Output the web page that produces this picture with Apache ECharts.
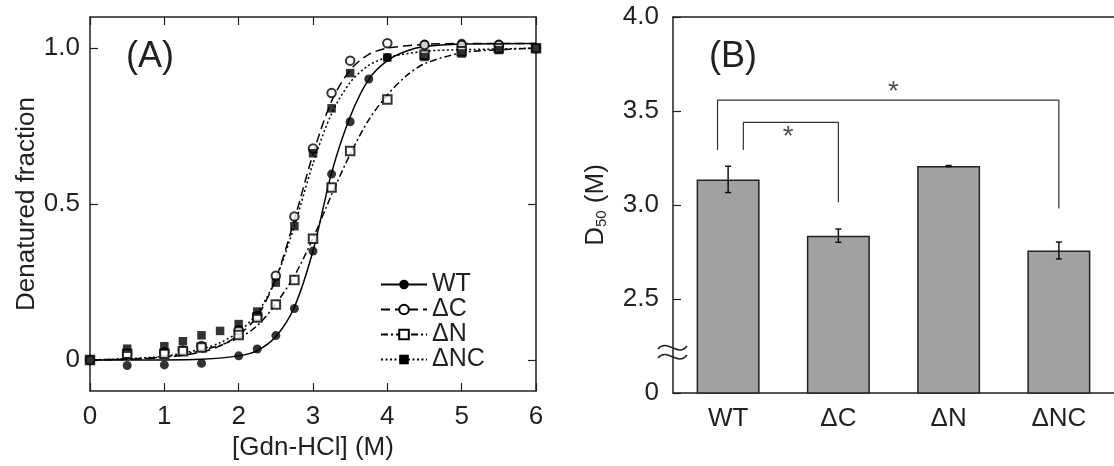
<!DOCTYPE html>
<html>
<head>
<meta charset="utf-8">
<script src="https://cdn.jsdelivr.net/npm/echarts@6/dist/echarts.min.js"></script>
<style>
  html, body { margin: 0; padding: 0; background: #fff; }
  #chart { width: 1114px; height: 466px; }
</style>
</head>
<body>
<div id="chart"></div>
<script>
// panel A: denaturation data points
const wtX = [0, 0.5, 1, 1.5, 2, 2.25, 2.5, 2.75, 3, 3.25, 3.5, 3.75, 4, 4.5, 5, 5.5, 6];
const wtY = [0, -0.018, -0.016, -0.011, 0.013, 0.035, 0.078, 0.165, 0.349, 0.596, 0.764, 0.901, 0.97, 1.013, 1.016, 1.013, 1.0];
const dcX = [0, 0.5, 1, 1.25, 1.5, 2, 2.25, 2.5, 2.75, 3, 3.25, 3.5, 4, 4.5, 5, 5.5, 6];
const dcY = [0, 0.02, 0.025, 0.03, 0.045, 0.095, 0.14, 0.27, 0.46, 0.678, 0.856, 0.96, 1.016, 1.01, 1.01, 1.01, 1.0];
const dnX = [0, 0.5, 1, 1.25, 1.5, 2, 2.25, 2.5, 2.75, 3, 3.25, 3.5, 4, 4.5, 5, 5.5, 6];
const dnY = [0, 0.02, 0.02, 0.028, 0.04, 0.08, 0.136, 0.178, 0.256, 0.389, 0.553, 0.67, 0.835, 0.979, 0.99, 1.0, 1.0];
const dncX = [0, 0.5, 1, 1.25, 1.5, 1.75, 2, 2.25, 2.5, 2.75, 3, 3.25, 3.5, 4, 4.5, 5, 5.5, 6];
const dncY = [0, 0.036, 0.044, 0.06, 0.079, 0.093, 0.115, 0.155, 0.248, 0.429, 0.663, 0.807, 0.92, 0.97, 0.972, 0.983, 0.994, 1.0];

// panel A: fitted curves
const wtFitX = [0, 1, 1.5, 2, 2.25, 2.5, 2.75, 3, 3.25, 3.5, 3.75, 4, 4.25, 4.5, 5, 6];
const wtFitY = [0, 0, 0.002, 0.013, 0.03, 0.075, 0.17, 0.35, 0.6, 0.78, 0.9, 0.96, 0.99, 1.005, 1.013, 1.015];
const dcFitX = [0, 0.5, 1, 1.5, 1.75, 2, 2.25, 2.5, 2.75, 3, 3.25, 3.5, 3.75, 4, 4.5, 5, 6];
const dcFitY = [0, 0.002, 0.008, 0.025, 0.045, 0.08, 0.14, 0.26, 0.45, 0.66, 0.83, 0.93, 0.98, 1.0, 1.012, 1.015, 1.015];
const dnFitX = [0, 0.5, 1, 1.5, 2, 2.25, 2.5, 2.75, 3, 3.25, 3.5, 3.75, 4, 4.25, 4.5, 5, 5.5, 6];
const dnFitY = [0, 0.003, 0.01, 0.03, 0.07, 0.11, 0.18, 0.27, 0.39, 0.53, 0.66, 0.77, 0.85, 0.91, 0.95, 0.985, 0.995, 1.0];
const dncFitX = [0, 0.5, 1, 1.5, 1.75, 2, 2.25, 2.5, 2.75, 3, 3.25, 3.5, 3.75, 4, 4.5, 5, 6];
const dncFitY = [0, 0.004, 0.012, 0.035, 0.055, 0.09, 0.15, 0.26, 0.43, 0.63, 0.79, 0.89, 0.945, 0.97, 0.99, 0.995, 1.0];

// panel B: D50 bars
const variants = ['WT', 'ΔC', 'ΔN', 'ΔNC'];
const d50 = [3.136, 2.837, 3.207, 2.758];
const d50Err = [0.07, 0.035, 0.003, 0.045];
const yTicksA = [0, 0.5, 1];

// significance brackets (x in category units, y in M)
const bracket1X = [0.138, 0.138, 1, 1];
const bracket1Y = [3.292, 3.439, 3.439, 3.014];
const bracket2X = [-0.096, -0.096, 3, 3];
const bracket2Y = [3.292, 3.558, 3.558, 2.982];
const starX = [0.546, 1.5];
const starY = [3.36, 3.6];

const zip = (xs, ys) => xs.map((x, i) => [x, ys[i]]);

const ink = '#231f20';
const font = 'Liberation Sans, Arial, sans-serif';
const fs = 26;

const chart = echarts.init(document.getElementById('chart'));

const axisCommon = {
  axisLine: { onZero: false, lineStyle: { color: ink, width: 1.5 } },
  axisTick: { inside: true, length: 8, lineStyle: { color: ink, width: 1.2 } },
  splitLine: { show: false },
  axisLabel: { color: ink, fontSize: fs, fontFamily: font }
};

const curve = (name, xs, ys, dash, symbol) => ({
  name: name,
  type: 'line',
  xAxisIndex: 0,
  yAxisIndex: 0,
  data: zip(xs, ys),
  smooth: 0.3,
  showSymbol: false,
  symbol: symbol,
  symbolSize: 9,
  itemStyle: { color: '#000' },
  lineStyle: { color: '#000', width: 1.5, type: dash },
  z: 2
});

const points = (name, xs, ys, symbol, size) => ({
  name: name,
  type: 'scatter',
  xAxisIndex: 0,
  yAxisIndex: 0,
  data: zip(xs, ys),
  symbol: symbol,
  symbolSize: size,
  itemStyle: { color: '#000', borderWidth: 1.2 },
  z: 3
});

const bracket = (xs, ys) => ({
  type: 'line',
  xAxisIndex: 4,
  yAxisIndex: 2,
  data: zip(xs, ys),
  symbol: 'none',
  lineStyle: { color: '#333', width: 1.2 },
  z: 4
});

chart.setOption({
  animation: false,
  backgroundColor: '#fff',
  textStyle: { fontFamily: font, color: ink },
  grid: [
    { left: 90, top: 17, width: 446, height: 376 },
    { left: 673, top: 17, right: -11, height: 376 }
  ],
  legend: {
    data: ['WT', 'ΔC', 'ΔN', 'ΔNC'],
    orient: 'vertical',
    left: 375,
    top: 267,
    itemWidth: 46,
    itemHeight: 12,
    itemGap: 0,
    textStyle: { fontSize: 25, color: ink, fontFamily: font, lineHeight: 23.5 }
  },
  xAxis: [
    Object.assign({}, axisCommon, {
      type: 'value', gridIndex: 0, min: 0, max: 6, interval: 1,
      name: '[Gdn-HCl] (M)', nameLocation: 'middle', nameGap: 43,
      nameTextStyle: { fontSize: fs, color: ink, fontFamily: font },
      axisLabel: Object.assign({}, axisCommon.axisLabel, { margin: 13 })
    }),
    Object.assign({}, axisCommon, {
      type: 'value', gridIndex: 0, min: 0, max: 6, interval: 1, position: 'top',
      axisLabel: { show: false }
    }),
    Object.assign({}, axisCommon, {
      type: 'category', gridIndex: 1, data: variants,
      axisLabel: Object.assign({}, axisCommon.axisLabel, { margin: 13 })
    }),
    Object.assign({}, axisCommon, {
      type: 'category', gridIndex: 1, data: variants, position: 'top',
      axisLabel: { show: false }
    }),
    { type: 'value', gridIndex: 1, min: -0.5, max: 3.5, show: false }
  ],
  yAxis: [
    Object.assign({}, axisCommon, {
      type: 'value', gridIndex: 0, min: -0.1, max: 1.1,
      name: 'Denatured fraction', nameLocation: 'middle', nameGap: 50,
      nameTextStyle: { fontSize: fs, color: ink, fontFamily: font },
      axisTick: Object.assign({}, axisCommon.axisTick, { customValues: yTicksA }),
      axisLabel: Object.assign({}, axisCommon.axisLabel, {
        margin: 10,
        customValues: yTicksA,
        formatter: v => (v === 0 ? '0' : v.toFixed(1))
      })
    }),
    Object.assign({}, axisCommon, {
      type: 'value', gridIndex: 0, min: -0.1, max: 1.1, position: 'right',
      axisTick: Object.assign({}, axisCommon.axisTick, { customValues: yTicksA }),
      axisLabel: { show: false }
    }),
    Object.assign({}, axisCommon, {
      type: 'value', gridIndex: 1, min: 2, max: 4, interval: 0.5,
      name: '{d|D}{s|50}{d| (M)}', nameLocation: 'middle', nameGap: 64,
      nameTextStyle: {
        rich: {
          d: { fontSize: fs, color: ink, fontFamily: font },
          s: { fontSize: 15, color: ink, fontFamily: font, verticalAlign: 'bottom', padding: [10, 0, 0, 0] }
        }
      },
      axisLabel: Object.assign({}, axisCommon.axisLabel, {
        margin: 14,
        formatter: v => (v === 2 ? '0' : v.toFixed(1))
      })
    })
  ],
  series: [
    curve('WT', wtFitX, wtFitY, 'solid', 'circle'),
    curve('ΔC', dcFitX, dcFitY, [9, 5], 'emptyCircle'),
    curve('ΔN', dnFitX, dnFitY, [7, 3, 2, 3], 'emptyRect'),
    curve('ΔNC', dncFitX, dncFitY, [2, 2.5], 'rect'),
    points('WT points', wtX, wtY, 'circle', 9),
    points('ΔC points', dcX, dcY, 'emptyCircle', 8.5),
    points('ΔN points', dnX, dnY, 'emptyRect', 8.5),
    points('ΔNC points', dncX, dncY, 'rect', 8.5),
    {
      name: 'D50',
      type: 'bar',
      xAxisIndex: 2,
      yAxisIndex: 2,
      data: d50,
      barWidth: 63,
      clip: true,
      itemStyle: { color: '#a0a1a3', borderColor: '#222', borderWidth: 1.5 },
      z: 2
    },
    {
      type: 'custom',
      xAxisIndex: 2,
      yAxisIndex: 2,
      data: d50.map((v, i) => [i, v - d50Err[i], v + d50Err[i]]),
      renderItem: (params, api) => {
        const lo = api.coord([api.value(0), api.value(1)]);
        const hi = api.coord([api.value(0), api.value(2)]);
        const w = 3;
        const style = { stroke: '#111', lineWidth: 1.5 };
        return {
          type: 'group',
          children: [
            { type: 'line', shape: { x1: lo[0], y1: lo[1], x2: hi[0], y2: hi[1] }, style: style },
            { type: 'line', shape: { x1: lo[0] - w, y1: lo[1], x2: lo[0] + w, y2: lo[1] }, style: style },
            { type: 'line', shape: { x1: hi[0] - w, y1: hi[1], x2: hi[0] + w, y2: hi[1] }, style: style }
          ]
        };
      },
      z: 5
    },
    bracket(bracket1X, bracket1Y),
    bracket(bracket2X, bracket2Y),
    {
      type: 'scatter',
      xAxisIndex: 4,
      yAxisIndex: 2,
      data: zip(starX, starY),
      symbolSize: 0,
      label: {
        show: true, position: 'inside', formatter: '*',
        fontSize: 28, color: ink, fontFamily: font
      },
      z: 5
    }
  ],
  graphic: [
    { type: 'text', left: 126, top: 39, style: { text: '(A)', fill: ink, font: '36px ' + font } },
    { type: 'text', left: 709, top: 39, style: { text: '(B)', fill: ink, font: '36px ' + font } },
    {
      type: 'bezierCurve',
      shape: { x1: 658, y1: 349, cpx1: 667, cpy1: 338, cpx2: 678, cpy2: 358, x2: 687, y2: 346 },
      style: { stroke: ink, lineWidth: 1.5, fill: null }, z: 10
    },
    {
      type: 'bezierCurve',
      shape: { x1: 658, y1: 358, cpx1: 667, cpy1: 347, cpx2: 678, cpy2: 367, x2: 687, y2: 355 },
      style: { stroke: ink, lineWidth: 1.5, fill: null }, z: 10
    }
  ]
});
</script>
</body>
</html>
